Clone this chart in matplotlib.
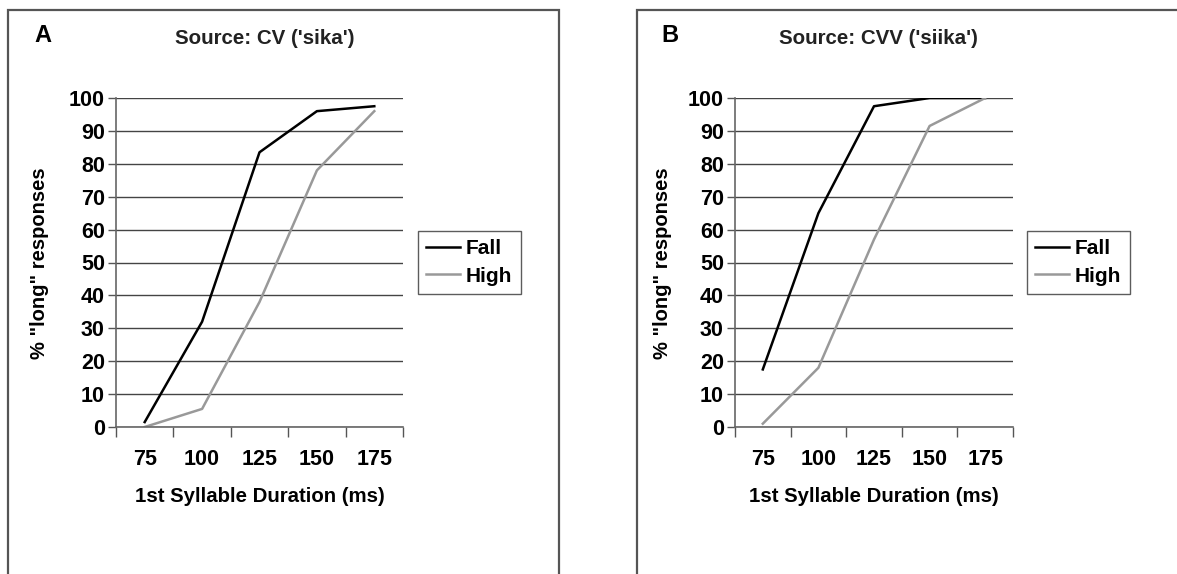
import matplotlib.pyplot as plt
from matplotlib.patches import Rectangle
import numpy as np

# Data
durations = ['75', '100', '125', '150', '175']
cv_fall = [1.5, 32, 83.5, 96, 97.5]
cv_high = [0, 5.5, 38, 78, 96]
cvv_fall = [17.5, 65, 97.5, 100, 100]
cvv_high = [1, 18, 57, 91.5, 100]

W, H = 1177, 574
plt.rcParams['font.family'] = ['Liberation Sans', 'DejaVu Sans']
plt.rcParams['font.weight'] = 'bold'

fig = plt.figure(figsize=(W / 100, H / 100), dpi=100)


def fx(px):
    return px / W


def fy(py):
    return 1 - py / H


def frame(x0, x1, letter, letter_x, title, title_x):
    # panel frame, open at the bottom (cut off by the image edge)
    fig.patches.append(Rectangle((fx(x0), fy(620)), fx(x1 - x0), fy(10) - fy(620),
                                 transform=fig.transFigure, fill=False,
                                 edgecolor='#555555', linewidth=1.6))
    fig.text(fx(letter_x), fy(35), letter, fontsize=17, fontweight='bold',
             ha='center', va='center')
    fig.text(fx(title_x), fy(39), title, fontsize=14.8, fontweight='bold',
             ha='center', va='center', color='#222222')


def make_axes(left, right, fall, high, leg_x, ylabel_x):
    top, bottom = 98, 427
    ax = fig.add_axes([fx(left), fy(bottom), fx(right - left), fy(top) - fy(bottom)])
    x = np.arange(len(durations))
    ax.plot(x, fall, color='black', lw=1.8, label='Fall')
    ax.plot(x, high, color='#999999', lw=1.8, label='High')
    ax.set_xlim(-0.5, len(durations) - 0.5)
    ax.set_ylim(0, 100)
    ax.set_yticks(np.arange(0, 101, 10))
    ax.yaxis.grid(True, color='#444444', lw=1.0)
    ax.set_axisbelow(True)
    ax.set_xticks(np.arange(-0.5, len(durations), 1.0))
    ax.set_xticklabels([])
    ax.set_xticks(x, minor=True)
    ax.set_xticklabels(durations, minor=True)
    ax.tick_params(axis='x', which='major', length=7, width=1, color='#555555')
    ax.tick_params(axis='x', which='minor', length=0, pad=16, labelsize=15.5)
    ax.tick_params(axis='y', length=6, width=1, color='#555555', labelsize=15.5, pad=2)
    for s in ['top', 'right']:
        ax.spines[s].set_visible(False)
    for s in ['left', 'bottom']:
        ax.spines[s].set_color('#666666')
        ax.spines[s].set_linewidth(1.2)
    for lab in ax.get_xticklabels(minor=True) + ax.get_yticklabels():
        lab.set_fontweight('bold')
    fig.text(fx((left + right) / 2), fy(497), '1st Syllable Duration (ms)',
             fontsize=14.7, fontweight='bold', ha='center', va='center')
    fig.text(fx(ylabel_x), fy(263), '% "long" responses',
             fontsize=14.5, fontweight='bold', ha='center', va='center',
             rotation=90)
    leg = ax.legend(loc='upper left', bbox_to_anchor=(fx(leg_x), fy(231)),
                    bbox_transform=fig.transFigure, frameon=True, fancybox=False,
                    edgecolor='#333333', fontsize=15, handlelength=1.6,
                    handletextpad=0.3, borderpad=0.4, labelspacing=0.4,
                    borderaxespad=0)
    leg.get_frame().set_linewidth(1.0)
    for t in leg.get_texts():
        t.set_fontweight('bold')
    return ax


frame(8, 559, 'A', 43, "Source: CV ('sika')", 265)
make_axes(116, 403, cv_fall, cv_high, 418, 40)
frame(637, 1250, 'B', 670, "Source: CVV ('siika')", 878)
make_axes(735, 1013, cvv_fall, cvv_high, 1027, 662)

fig.savefig('out.png', dpi=100)
